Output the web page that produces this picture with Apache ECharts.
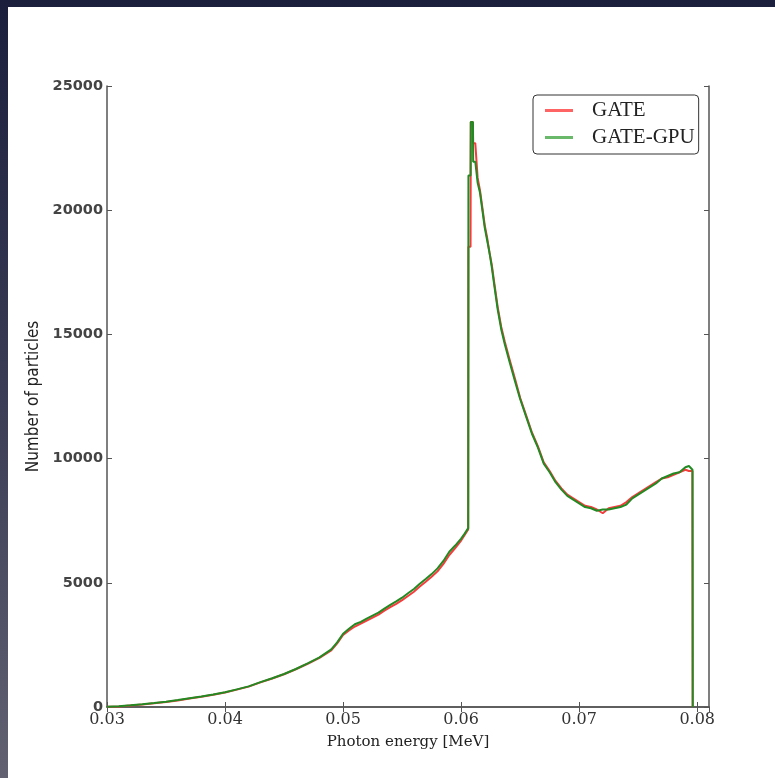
<!DOCTYPE html>
<html>
<head>
<meta charset="utf-8">
<script src="https://cdn.jsdelivr.net/npm/echarts@6/dist/echarts.min.js"></script>
<style>
html,body{margin:0;padding:0;width:775px;height:778px;overflow:hidden;background:linear-gradient(180deg,#1c1f3c 0%,#3a3c55 50%,#616171 100%);}
#c{position:absolute;left:8px;top:7px;width:767px;height:771px;background:#fff;}
</style>
</head>
<body>
<div id="c"></div>
<script>
// Photon energy [MeV] sample positions
const energy = [
  0.0300, 0.0310, 0.0320, 0.0330, 0.0340, 0.0350, 0.0360, 0.0370, 0.0380, 0.0390,
  0.0400, 0.0410, 0.0420, 0.0430, 0.0440, 0.0450, 0.0460, 0.0470, 0.0480, 0.0490,
  0.0495, 0.0500, 0.0505, 0.0510, 0.0515, 0.0520, 0.0525, 0.0530, 0.0535, 0.0540,
  0.0545, 0.0550, 0.0555, 0.0560, 0.0565, 0.0570, 0.0575, 0.0580, 0.0585, 0.0590,
  0.0595, 0.0600, 0.0603, 0.0606, 0.06062, 0.0608, 0.06082, 0.0610, 0.06102, 0.0612,
  0.0614, 0.0616, 0.0618, 0.0620, 0.0622, 0.0624, 0.0626, 0.0628, 0.0631, 0.0634,
  0.0637, 0.0641, 0.0646, 0.0650, 0.0655, 0.0660, 0.0665, 0.0670, 0.0675, 0.0680,
  0.0685, 0.0690, 0.0695, 0.0700, 0.0705, 0.0710, 0.0715, 0.0720, 0.0725, 0.0730,
  0.0735, 0.0740, 0.0745, 0.0750, 0.0755, 0.0760, 0.0765, 0.0770, 0.0775, 0.0780,
  0.0785, 0.0790, 0.0793, 0.0796, 0.07962
];
// Number of particles, GATE (red)
const gate = [
  10, 25, 65, 105, 150, 205, 265, 340, 415, 495,
  585, 700, 820, 990, 1150, 1320, 1520, 1740, 1980, 2280,
  2560, 2900, 3080, 3240, 3360, 3480, 3600, 3720, 3880, 4020,
  4150, 4300, 4470, 4640, 4850, 5040, 5240, 5460, 5760, 6120,
  6400, 6700, 6930, 7150, 18530, 18530, 23550, 23550, 22700, 22700,
  21300, 20800, 20100, 19400, 18900, 18300, 17800, 17100, 16100, 15300,
  14700, 14000, 13150, 12450, 11750, 11050, 10500, 9850, 9500, 9100,
  8800, 8550, 8400, 8250, 8100, 8050, 7950, 7800, 8000, 8050,
  8100, 8250, 8450, 8600, 8750, 8900, 9050, 9200, 9250, 9350,
  9450, 9550, 9500, 9500, 0
];
// Number of particles, GATE-GPU (green)
const gatePU = [
  15, 35, 70, 110, 160, 215, 280, 350, 420, 500,
  590, 710, 830, 1000, 1160, 1330, 1530, 1760, 2000, 2320,
  2600, 2950, 3150, 3330, 3430, 3560, 3680, 3800, 3960, 4110,
  4250, 4400, 4580, 4750, 4960, 5150, 5350, 5580, 5880, 6250,
  6500, 6780, 6980, 7200, 21400, 21400, 23550, 23550, 21950, 21950,
  21100, 20700, 20000, 19300, 18800, 18300, 17700, 17000, 16000, 15200,
  14600, 13900, 13050, 12400, 11700, 11000, 10450, 9800, 9450, 9050,
  8750, 8500, 8350, 8200, 8050, 8000, 7900, 7950, 7950, 8000,
  8050, 8150, 8400, 8550, 8700, 8850, 9000, 9200, 9300, 9400,
  9450, 9650, 9700, 9550, 0
];
const seriesNames = ['GATE', 'GATE-GPU'];

const chart = echarts.init(document.getElementById('c'));
const frame = {show: true, lineStyle: {color: '#555', width: 1.5}};
const tick = {show: true, inside: true, length: 5, lineStyle: {color: '#555', width: 1}};
const grid = {left: 99, right: 66, top: 79, bottom: 71};
const xFmt = v => (Math.abs(v * 100 - Math.round(v * 100)) < 1e-6 ? v.toFixed(2) : '');

chart.setOption({
  animation: false,
  grid: grid,
  legend: {
    left: 525, top: 88,
    orient: 'vertical',
    backgroundColor: '#fff',
    borderColor: '#333', borderWidth: 1, borderRadius: 4,
    padding: [5, 4, 6, 12],
    itemGap: 6,
    itemWidth: 28, itemHeight: 3,
    icon: 'rect',
    textStyle: {fontFamily: 'Liberation Serif', fontSize: 21, color: '#222', padding: [0, 0, 0, 14]},
    data: [
      {name: seriesNames[0], itemStyle: {color: '#ff6464'}},
      {name: seriesNames[1], itemStyle: {color: '#6ab86a'}}
    ]
  },
  xAxis: [{
    type: 'value', min: 0.03, max: 0.081, interval: 0.01,
    position: 'bottom',
    name: 'Photon energy [MeV]', nameLocation: 'middle', nameGap: 28,
    nameTextStyle: {fontFamily: 'DejaVu Serif', fontSize: 15, color: '#222'},
    axisLine: frame, axisTick: tick,
    axisLabel: {fontFamily: 'DejaVu Serif', fontSize: 16, color: '#333', margin: 5, showMaxLabel: false, formatter: xFmt},
    splitLine: {show: false}
  }, {
    type: 'value', min: 0.03, max: 0.081, interval: 0.01,
    position: 'top',
    axisLine: frame, axisTick: tick, axisLabel: {show: false}, splitLine: {show: false}
  }],
  yAxis: [{
    type: 'value', min: 0, max: 25000, interval: 5000,
    position: 'left',
    name: 'Number of particles', nameLocation: 'middle', nameGap: 53, nameRotate: 90,
    nameTextStyle: {fontFamily: "'DejaVu Sans Condensed', 'Liberation Sans Narrow', 'Liberation Sans'", fontSize: 17, color: '#222'},
    axisLine: frame, axisTick: tick,
    axisLabel: {fontFamily: 'DejaVu Sans', fontWeight: 'bold', fontSize: 14.5, color: '#444', margin: 4, formatter: v => String(v)},
    splitLine: {show: false}
  }, {
    type: 'value', min: 0, max: 25000, interval: 5000,
    position: 'right',
    axisLine: frame, axisTick: tick, axisLabel: {show: false}, splitLine: {show: false}
  }],
  series: [{
    name: seriesNames[0], type: 'line', showSymbol: false, symbol: 'none',
    xAxisIndex: 0, yAxisIndex: 0,
    lineStyle: {color: '#f43c3c', width: 2},
    itemStyle: {color: '#f43c3c'},
    data: energy.map((e, i) => [e, gate[i]])
  }, {
    name: seriesNames[1], type: 'line', showSymbol: false, symbol: 'none',
    xAxisIndex: 0, yAxisIndex: 0,
    lineStyle: {color: '#238a23', width: 2},
    itemStyle: {color: '#238a23'},
    data: energy.map((e, i) => [e, gatePU[i]])
  }]
});
</script>
</body>
</html>
